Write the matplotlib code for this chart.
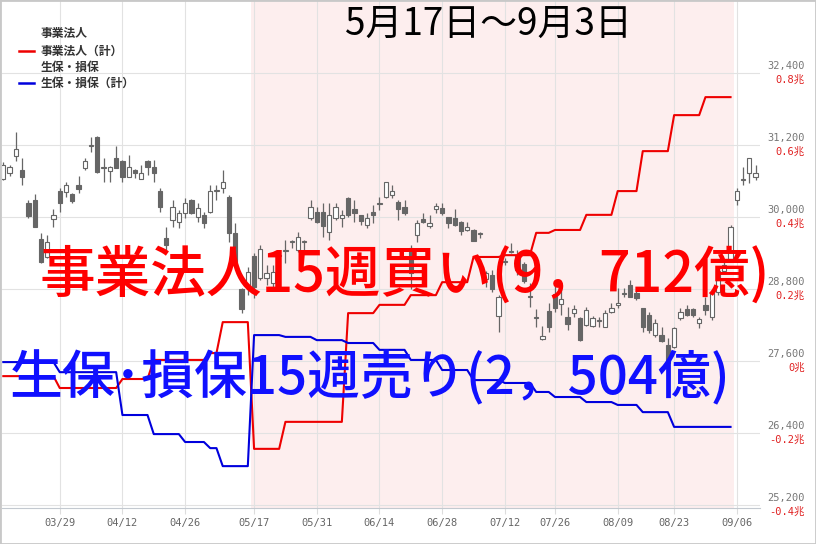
import numpy as np
import matplotlib
matplotlib.use('Agg')
import matplotlib.pyplot as plt
from matplotlib.lines import Line2D
from matplotlib.patches import Rectangle
from matplotlib.transforms import blended_transform_factory

plt.rcParams['font.family'] = ['Noto Sans CJK JP', 'DejaVu Sans']

# daily candles, index 0 = 03/16
opens = [30633, 30733, 31017, 30783, 30233, 30283, 29633, 29333, 29967, 30433,
         30417, 30383, 30533, 30817, 31183, 31333, 30817, 30767, 30983, 30933,
         30667, 30783, 30633, 30933, 30833, 30433, 29650, 29950, 29917, 30067,
         30283, 30000, 30033, 30083, 30433, 30483, 30333, 29733, 28800, 28833,
         29350, 28983, 28983, 28900, 29350, 29433, 29583, 29450, 29583, 29983,
         30083, 30083, 29750, 29983, 29983, 30317, 30133, 30033, 29867, 30083,
         30217, 30333, 30367, 30250, 30167, 29483, 29700, 29967, 29850, 30133,
         30150, 30000, 29983, 29917, 29783, 29783, 29717, 28967, 29033, 28350,
         29250, 29417, 29367, 29217, 28667, 28317, 27967, 28433, 28717, 28550,
         28333, 28400, 28317, 28200, 28183, 28267, 28167, 28417, 28533, 28717,
         28867, 28733, 28483, 28367, 28033, 28033, 27867, 27833, 28317, 28467,
         28467, 28233, 28533, 28333, 28750, 29100, 29283, 30283, 30617, 30733,
         30667]
highs = [30917, 30867, 31417, 30983, 30283, 30383, 29733, 29700, 30133, 30483,
         30583, 30400, 30683, 30983, 31333, 31350, 30983, 30850, 31183, 30950,
         31033, 30800, 30867, 30950, 30950, 30483, 29833, 30283, 30117, 30317,
         30300, 30233, 30083, 30533, 30533, 30783, 30367, 29900, 28817, 29167,
         29400, 29533, 29200, 29200, 29417, 29617, 29617, 29750, 29617, 30283,
         30167, 30233, 30233, 30233, 30117, 30333, 30283, 30033, 30067, 30200,
         30333, 30583, 30533, 30283, 30283, 29533, 29950, 30067, 30033, 30233,
         30233, 30000, 30133, 29933, 29917, 29800, 29750, 29100, 29117, 28700,
         29317, 29567, 29450, 29250, 28900, 28467, 28183, 28567, 28867, 28817,
         28500, 28533, 28333, 28500, 28350, 28333, 28450, 28567, 28817, 28817,
         28950, 28783, 28483, 28417, 28300, 28167, 27983, 28167, 28483, 28533,
         28483, 28333, 28667, 28750, 29150, 29300, 29867, 30483, 30833, 30983,
         30867]
lows = [30617, 30683, 30933, 30533, 29983, 29833, 29233, 29317, 29833, 30083,
        30333, 30233, 30400, 30783, 31083, 30733, 30583, 30583, 30817, 30583,
        30667, 30650, 30633, 30700, 30583, 30083, 29450, 29833, 29817, 29983,
        30050, 29917, 29817, 30067, 30283, 30400, 29583, 29167, 28400, 28700,
        28650, 28950, 28867, 28833, 29233, 29233, 29483, 29417, 29417, 29950,
        29900, 29667, 29617, 29950, 29833, 30000, 29917, 29867, 29817, 29900,
        30117, 30317, 30317, 29950, 30033, 28800, 29583, 29900, 29817, 30067,
        30033, 29817, 29850, 29700, 29767, 29600, 29650, 28833, 28750, 28083,
        29200, 29400, 29033, 28900, 28500, 28167, 27950, 28083, 28417, 28367,
        28117, 28333, 27933, 28183, 28167, 28167, 28167, 28400, 28483, 28667,
        28667, 28617, 28083, 28067, 28000, 27917, 27500, 27817, 28283, 28350,
        28333, 28150, 28367, 28283, 28700, 29050, 29283, 30200, 30533, 30567,
        30617]
closes = [30867, 30833, 31133, 30667, 30017, 29833, 29250, 29583, 30033, 30233,
          30533, 30267, 30467, 30933, 31200, 30750, 30833, 30833, 30817, 30667,
          30833, 30733, 30733, 30833, 30733, 30167, 29533, 30167, 30067, 30233,
          30067, 30150, 29900, 30433, 30450, 30583, 29733, 29200, 28467, 29083,
          28833, 29467, 29067, 29083, 29367, 29450, 29600, 29667, 29600, 30167,
          29917, 29850, 30033, 30167, 30033, 30033, 30067, 29933, 29983, 30033,
          30233, 30583, 30433, 30133, 30067, 29067, 29900, 29917, 29900, 30183,
          30067, 29900, 29867, 29767, 29833, 29600, 29733, 29067, 28800, 28667,
          29267, 29433, 29117, 28933, 28683, 28333, 28017, 28167, 28483, 28633,
          28217, 28467, 27950, 28450, 28317, 28283, 28400, 28483, 28567, 28733,
          28667, 28650, 28167, 28117, 28233, 27933, 27567, 28150, 28417, 28367,
          28367, 28300, 28450, 28733, 29100, 29200, 29833, 30433, 30633, 30983,
          30733]

date_ticks = [9, 19, 29, 40, 50, 60, 70, 80, 88, 98, 107, 117]
date_labels = ['03/29', '04/12', '04/26', '05/17', '05/31', '06/14',
               '06/28', '07/12', '07/26', '08/09', '08/23', '09/06']

price_ticks = [25200, 26400, 27600, 28800, 30000, 31200, 32400]
cho_labels = ['-0.4兆', '-0.2兆', '0兆', '0.2兆', '0.4兆', '0.6兆', '0.8兆']

# weekly cumulative net buying (兆円), first trading day index of each week
week_start = [0, 4, 9, 14, 19, 24, 29, 33, 35,
              40, 45, 50, 55, 60, 65, 70, 75, 80, 85, 88, 93, 98, 102, 107, 112]
corp_cum = [-0.042, -0.042, -0.075, -0.075, -0.050, 0.003, 0.003, 0.022, 0.108,
            -0.244, -0.169, -0.169, 0.133, 0.156, 0.183, 0.219, 0.289, 0.294,
            0.356, 0.364, 0.406, 0.472, 0.583, 0.683, 0.733]
ins_cum = [-0.003, -0.003, -0.031, -0.031, -0.150, -0.203, -0.225, -0.242, -0.292,
           0.072, 0.067, 0.058, 0.050, 0.031, 0.003, -0.025, -0.053, -0.061,
           -0.086, -0.100, -0.114, -0.122, -0.142, -0.183, -0.183]
last_day = 116
span_start, span_end = 39.5, 116.5

W, H = 816, 544
fig = plt.figure(figsize=(W / 100, H / 100), dpi=100)
ax = fig.add_axes([2 / W, 1 - 508 / H, 758 / W, 508 / H])

o = np.array(opens); h = np.array(highs); l = np.array(lows); c = np.array(closes)
x = np.arange(len(o))
up = c >= o
gray = '#666666'
ax.vlines(x, l, h, color=gray, lw=0.9, zorder=2)
ax.bar(x[up], np.maximum(c[up] - o[up], 12), bottom=o[up], width=0.68,
       facecolor='white', edgecolor=gray, lw=0.8, zorder=3)
ax.bar(x[~up], np.maximum(o[~up] - c[~up], 12), bottom=c[~up], width=0.68,
       facecolor=gray, edgecolor=gray, lw=0.8, zorder=3)

ax.axvspan(span_start, span_end, color='#fdeeee', lw=0, zorder=0)

ax.set_xlim(-0.21, 120.7)
ax.set_ylim(25150, 33617)
ax.set_axisbelow(True)
ax.set_xticks(date_ticks)
ax.set_xticklabels(date_labels, family=['DejaVu Sans Mono'], fontsize=7.5, color='#666666')
ax.set_yticks(price_ticks)
ax.tick_params(axis='x', length=4, color='#dddddd', pad=3)
ax.tick_params(axis='y', length=0, labelleft=False, labelright=False)
ax.grid(color='#e2e2e2', lw=0.8)
for s in ['top', 'right', 'left']:
    ax.spines[s].set_visible(False)
ax.spines['bottom'].set_color('#c3c9d0')

trans = blended_transform_factory(fig.transFigure, ax.transData)
for p, lab in zip(price_ticks, cho_labels):
    ax.annotate(f'{p:,}', xy=(805 / W, p), xycoords=trans, xytext=(0, 1.5),
                textcoords='offset points', ha='right', va='bottom',
                family=['DejaVu Sans Mono'], fontsize=7.5, color='#777777')
    ax.annotate(lab, xy=(805 / W, p), xycoords=trans, xytext=(0, -1.5),
                textcoords='offset points', ha='right', va='top',
                family=['DejaVu Sans Mono', 'Noto Sans CJK JP'], fontsize=7.5,
                color='#e02020')

ax2 = ax.twinx()
ax2.set_ylim(-0.4083, 1.0028)
ax2.axis('off')
lengths = np.diff(week_start + [last_day + 1])
days = np.arange(last_day + 1)
ax2.plot(days, np.repeat(corp_cum, lengths), color='#ee0000', lw=1.5)
ax2.plot(days, np.repeat(ins_cum, lengths), color='#0000dd', lw=1.5)

# legend
leg_rows = [('事業法人', None, 33), ('事業法人（計）', '#ee0000', 51),
            ('生保・損保', None, 67), ('生保・損保（計）', '#0000dd', 83)]
for txt, col, yy in leg_rows:
    fig.text(41 / W, 1 - yy / H, txt, fontsize=8.5, fontweight='bold',
             color='#333333', va='center', ha='left')
    if col:
        fig.add_artist(Line2D([19 / W, 34 / W], [1 - yy / H] * 2, color=col, lw=1.8))

renderer = fig.canvas.get_renderer()


def fit_text(t, width_px):
    w = t.get_window_extent(renderer).width
    t.set_fontsize(t.get_fontsize() * width_px / w)


t1 = fig.text(488 / W, 1 - 24 / H, '5月17日～9月3日', fontsize=26,
              color='black', ha='center', va='center', fontweight='normal')
fit_text(t1, 287)
t2 = fig.text(40 / W, 1 - 276 / H, '事業法人15週買い(9，712億)', fontsize=40,
              color='#ff0000', ha='left', va='center', fontweight='medium')
fit_text(t2, 730)
t3 = fig.text(10 / W, 1 - 379 / H, '生保･損保15週売り(2，504億)', fontsize=40,
              color='#1010ff', ha='left', va='center', fontweight='medium')
fit_text(t3, 720)

fig.add_artist(Rectangle((0, 0), 1, 1, transform=fig.transFigure, fill=False,
                         edgecolor='#c8c8c8', lw=2))

fig.savefig('out.png', dpi=100)
